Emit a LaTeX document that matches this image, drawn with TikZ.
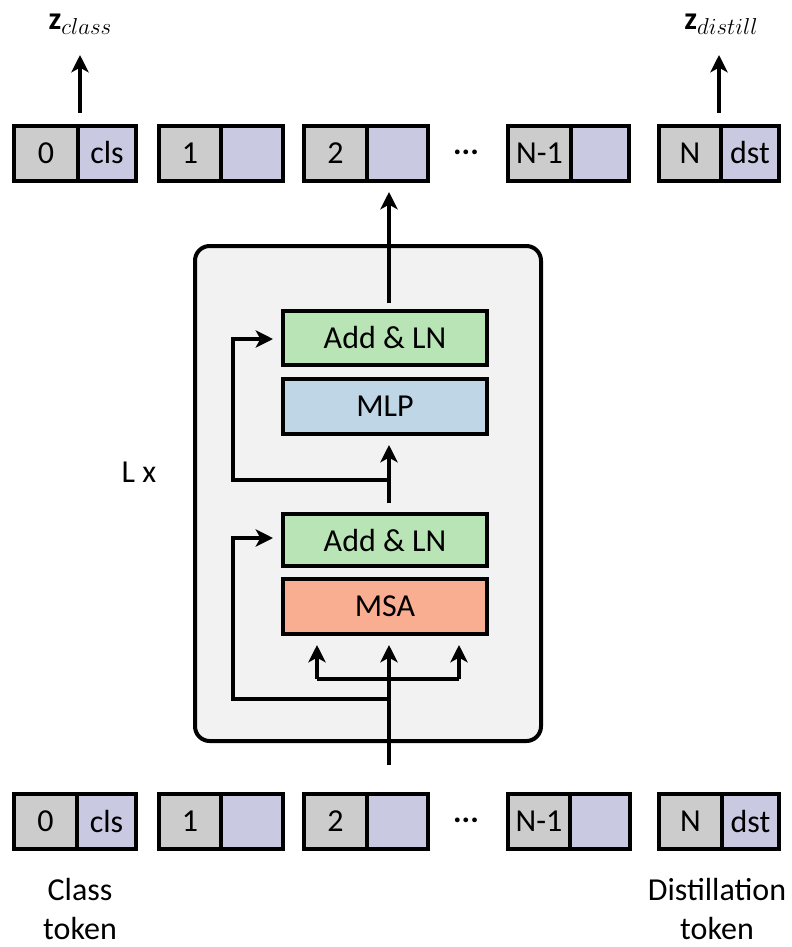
\documentclass[tikz,border=0pt]{standalone}
\usepackage{fontspec}
\setmainfont{Carlito}
\usetikzlibrary{arrows.meta}
\definecolor{tgray}{HTML}{CCCCCC}
\definecolor{tlav}{HTML}{C9C9E2}
\definecolor{bggray}{HTML}{F2F2F2}
\definecolor{addgreen}{HTML}{B9E4B5}
\definecolor{mlpblue}{HTML}{BED6E6}
\definecolor{msared}{HTML}{F9AE91}
\newcommand\tokpair[7]{%
  \node[tokbox, fill=tgray, minimum width={(#3-#2-2)*0.75pt}] (#1g) at ({(#2+2+#3)/2},#5) {#6};
  \node[tokbox, fill=tlav, minimum width={(#4-2-#3)*0.75pt}] (#1l) at ({(#3+#4-2)/2},#5) {#7};
}
\begin{document}
\begin{tikzpicture}[x=0.75pt,y=-0.75pt,
  tokbox/.style={draw, line width=3pt, inner sep=0pt, outer sep=0pt, minimum height={55*0.75pt}, font=\fontsize{24}{28}\selectfont},
  blockbox/.style={draw, line width=3pt, inner sep=0pt, outer sep=0pt, minimum width={204*0.75pt}, font=\fontsize{24}{28}\selectfont},
  lab/.style={font=\fontsize{24}{29}\selectfont, inner sep=0pt},
  conn/.style={line width=3pt},
  arr/.style={line width=3pt, -{Stealth[length=13pt,width=13pt,inset=3.5pt]}},
  ]
\useasboundingbox (0,0) rectangle (792,947);

% background block
\node[draw, line width=3pt, fill=bggray, rounded corners=11pt, inner sep=0pt, outer sep=0pt,
      minimum width={346*0.75pt}, minimum height={495*0.75pt}] (enc) at (368,493.5) {};

% blocks
\node[blockbox, fill=addgreen, minimum height={54*0.75pt}] (addB) at (385,338) {Add \& LN};
\node[blockbox, fill=mlpblue, minimum height={55*0.75pt}] (mlp) at (385,406.5) {MLP};
\node[blockbox, fill=addgreen, minimum height={52*0.75pt}] (addA) at (385,540) {Add \& LN};
\node[blockbox, fill=msared, minimum height={55*0.75pt}] (msa) at (385,606.5) {MSA};

% token rows
\tokpair{tA0}{12}{78}{138}{153}{0}{cls}
\tokpair{tA1}{157}{221}{285}{153}{1}{}
\tokpair{tA2}{302}{367}{430}{153}{2}{}
\tokpair{tAn}{506}{571}{631}{153}{N-1}{}
\tokpair{tAN}{657}{721}{781}{153}{N}{dst}
\node[lab] (dotsA) at (466,152) {\textbf{...}};

\tokpair{tB0}{12}{77}{138}{821.5}{0}{cls}
\tokpair{tB1}{157}{221}{285}{821.5}{1}{}
\tokpair{tB2}{302}{367}{430}{821.5}{2}{}
\tokpair{tBn}{506}{570}{632}{821.5}{N-1}{}
\tokpair{tBN}{657}{722}{781}{821.5}{N}{dst}
\node[lab] (dotsB) at (466,820.5) {\textbf{...}};

% labels
\node[lab, anchor=base] (zc) at (80,29) {\textbf{z}\raisebox{-3.75pt}{\fontsize{16}{16}\selectfont$class$}};
\node[lab, anchor=base] (zd) at (721,29) {\textbf{z}\raisebox{-3.75pt}{\fontsize{16}{16}\selectfont$distill$}};
\node[lab, anchor=base] (lx) at (139,482) {L x};
\node[lab, anchor=north, align=center] (ctok) at (80,878) {Class\\token};
\node[lab, anchor=north, align=center] (dtok) at (717,878) {Distillation\\token};

% coordinates
\coordinate (zcTail) at (80,113);
\coordinate (zcTip) at (80,55);
\coordinate (zdTail) at (719,113);
\coordinate (zdTip) at (719,55);
\coordinate (outStart) at (389,303);
\coordinate (outTip) at (389,192);
\coordinate (inStart) at (389,765);
\coordinate (inTip) at (389,645);
\coordinate (qTip) at (317,645);
\coordinate (vTip) at (459,645);
\coordinate (splitL) at (317,679);
\coordinate (splitR) at (459,679);
\coordinate (skipA) at (389,699);
\coordinate (skipATip) at (273,538);
\coordinate (midStart) at (389,503);
\coordinate (midTip) at (389,445);
\coordinate (skipB) at (389,480);
\coordinate (skipBTip) at (273,339);

% connectors
\draw[arr] (zcTail) -- (zcTip);
\draw[arr] (zdTail) -- (zdTip);
\draw[arr] (outStart) -- (outTip);
\draw[arr] (inStart) -- (inTip);
\draw[arr] (splitL) -- (qTip);
\draw[arr] (splitR) -- (vTip);
\draw[conn] (splitL) -- (splitR);
\draw[arr] (skipA) -| (233,538) -- (skipATip);
\draw[arr] (midStart) -- (midTip);
\draw[arr] (skipB) -| (233,339) -- (skipBTip);
\end{tikzpicture}
\end{document}
